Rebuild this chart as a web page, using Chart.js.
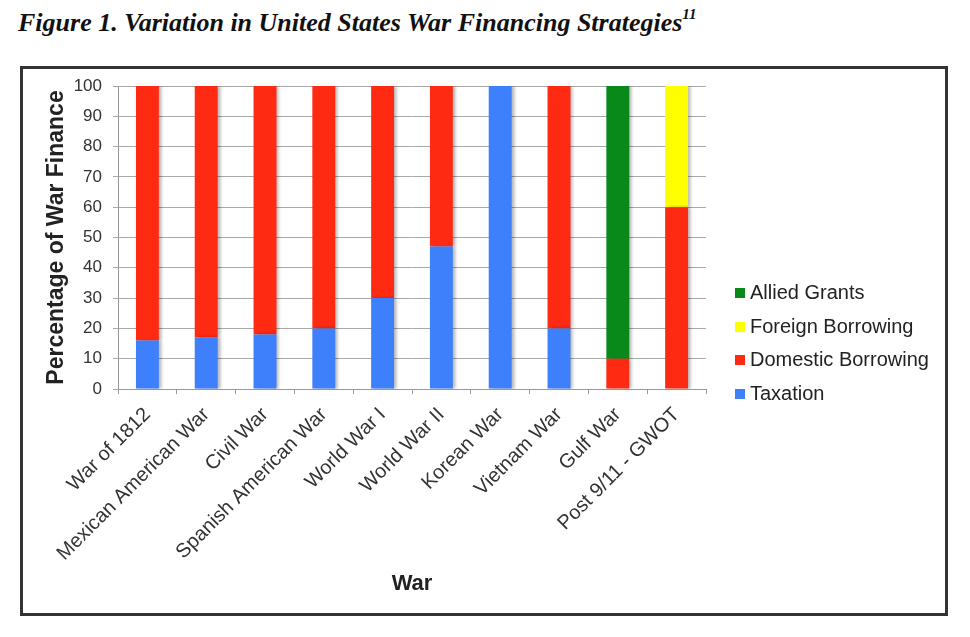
<!DOCTYPE html>
<html>
<head>
<meta charset="utf-8">
<title>Variation in United States War Financing Strategies</title>
<script src="https://cdn.jsdelivr.net/npm/chart.js@4.4.1/dist/chart.umd.min.js"></script>
<style>
    body {
        margin: 0;
        width: 970px;
        height: 637px;
        background: #fff;
        position: relative;
        overflow: hidden;
        font-family: "Liberation Sans", Arial, sans-serif;
    }
    #fig-title {
        position: absolute;
        left: 18px;
        top: 8px;
        font-family: "Liberation Serif", "DejaVu Serif", serif;
        font-weight: bold;
        font-style: italic;
        font-size: 26px;
        color: #111;
        white-space: nowrap;
    }
    #fig-title sup {
        font-size: 15px;
        position: relative;
        top: -2px;
    }
    #frame {
        position: absolute;
        left: 20px;
        top: 66px;
        width: 922px;
        height: 544px;
        border: 3px solid #333;
    }
    #chart-box {
        position: absolute;
        left: 0;
        top: 0;
        width: 922px;
        height: 544px;
    }
    #legend {
        position: absolute;
        left: 712px;
        top: 207px;
        color: #222;
        font-size: 20px;
    }
    .legend-item {
        height: 33.7px;
        line-height: 33.7px;
        white-space: nowrap;
    }
    .legend-swatch {
        display: inline-block;
        width: 10px;
        height: 10px;
        margin-right: 5px;
        vertical-align: 1px;
    }
</style>
</head>
<body>
<div id="fig-title">Figure 1. Variation in United States War Financing Strategies<sup>11</sup></div>
<div id="frame">
    <div id="chart-box"><canvas id="war-chart"></canvas></div>
    <div id="legend"></div>
</div>

<script>
// Chart data (percent of war finance)
const wars = ['War of 1812', 'Mexican American War', 'Civil War', 'Spanish American War',
    'World War I', 'World War II', 'Korean War', 'Vietnam War', 'Gulf War', 'Post 9/11 - GWOT'];
const taxation = [16, 17, 18, 20, 30, 47, 100, 20, 0, 0];
const domesticBorrowing = [84, 83, 82, 80, 70, 53, 0, 80, 10, 60];
const foreignBorrowing = [0, 0, 0, 0, 0, 0, 0, 0, 0, 40];
const alliedGrants = [0, 0, 0, 0, 0, 0, 0, 0, 90, 0];
const yTicks = [0, 10, 20, 30, 40, 50, 60, 70, 80, 90, 100];

// Soft shadow on the right side of the bars
const barShadow = {
    id: 'barShadow',
    beforeDatasetsDraw(chart) {
        const ctx = chart.ctx;
        ctx.save();
        ctx.shadowColor = 'rgba(0, 0, 0, 0.28)';
        ctx.shadowOffsetX = 3;
        ctx.shadowOffsetY = 0;
        ctx.shadowBlur = 3;
    },
    afterDatasetsDraw(chart) {
        chart.ctx.restore();
    }
};

// Build the legend as html, top to bottom reversed like the original
function buildLegend(chart) {
    const box = document.getElementById('legend');
    const items = chart.data.datasets.slice().reverse();
    items.forEach(ds => {
        const row = document.createElement('div');
        row.className = 'legend-item';
        const sw = document.createElement('span');
        sw.className = 'legend-swatch';
        sw.style.background = ds.backgroundColor;
        row.appendChild(sw);
        row.appendChild(document.createTextNode(ds.label));
        box.appendChild(row);
    });
}

function initializeChart() {
    const ctx = document.getElementById('war-chart').getContext('2d');

    const chart = new Chart(ctx, {
        type: 'bar',
        data: {
            labels: wars,
            datasets: [
                { label: 'Taxation', data: taxation, backgroundColor: '#3e7ffb' },
                { label: 'Domestic Borrowing', data: domesticBorrowing, backgroundColor: '#ff2a12' },
                { label: 'Foreign Borrowing', data: foreignBorrowing, backgroundColor: '#ffff00' },
                { label: 'Allied Grants', data: alliedGrants, backgroundColor: '#08891a' }
            ]
        },
        options: {
            responsive: true,
            maintainAspectRatio: false,
            animation: false,
            datasets: {
                bar: {
                    categoryPercentage: 1,
                    barPercentage: 0.39,
                    borderWidth: 0
                }
            },
            layout: {
                padding: { top: 17, right: 239, left: 0, bottom: 0 }
            },
            scales: {
                x: {
                    stacked: true,
                    afterFit(scale) { scale.height = 224; },
                    grid: {
                        drawOnChartArea: false,
                        color: '#999',
                        tickLength: 5
                    },
                    border: { color: '#999' },
                    ticks: {
                        autoSkip: false,
                        minRotation: 45,
                        maxRotation: 45,
                        padding: 9,
                        color: '#333',
                        font: { family: 'Liberation Sans', size: 20 }
                    },
                    title: {
                        display: true,
                        text: 'War',
                        color: '#222',
                        padding: { top: 0, bottom: 16 },
                        font: { family: 'Liberation Sans', size: 22, weight: 'bold' }
                    }
                },
                y: {
                    stacked: true,
                    min: 0,
                    max: 100,
                    afterFit(scale) {
                        scale.width = 95;
                        // keep the plot top where the original has it
                        scale.paddingTop = 8;
                        scale.paddingBottom = 8;
                    },
                    afterBuildTicks(scale) {
                        scale.ticks = yTicks.map(v => ({ value: v }));
                    },
                    grid: {
                        color: '#a9a9a9',
                        tickLength: 5
                    },
                    border: { color: '#999' },
                    ticks: {
                        padding: 11,
                        color: '#333',
                        font: { family: 'Liberation Sans', size: 17 }
                    },
                    title: {
                        display: true,
                        text: 'Percentage of War Finance',
                        color: '#222',
                        padding: { top: 20, bottom: 0 },
                        font: { family: 'Liberation Sans', size: 23, weight: 'bold' }
                    }
                }
            },
            plugins: {
                legend: { display: false },
                tooltip: { enabled: false }
            }
        },
        plugins: [barShadow]
    });

    buildLegend(chart);
}

document.addEventListener('DOMContentLoaded', initializeChart);
</script>
</body>
</html>
